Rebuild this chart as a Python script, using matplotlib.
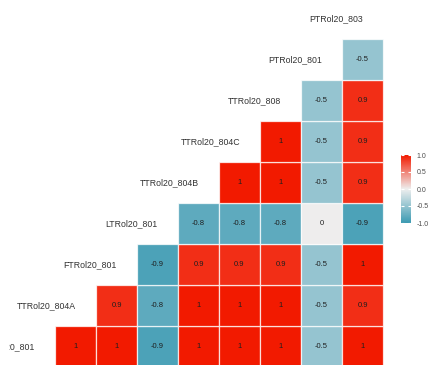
import numpy as np
import matplotlib
matplotlib.use("Agg")
import matplotlib.pyplot as plt
from matplotlib.colors import LinearSegmentedColormap, Normalize
from matplotlib.cm import ScalarMappable
from matplotlib.patches import Rectangle
from matplotlib.transforms import Bbox, TransformedBbox

plt.rcParams["font.family"] = ["Liberation Sans", "DejaVu Sans"]

# Variables in diagonal order (bottom-left to top-right)
variables = ["TTRol20_801", "TTRol20_804A", "FTRol20_801", "LTRol20_801",
             "TTRol20_804B", "TTRol20_804C", "TTRol20_808", "PTRol20_801",
             "PTRol20_803"]

# Correlations of each variable with the variables that follow it
corr_r0 = [1, 1, -0.9, 1, 1, 1, -0.5, 1]
corr_r1 = [0.9, -0.8, 1, 1, 1, -0.5, 0.9]
corr_r2 = [-0.9, 0.9, 0.9, 0.9, -0.5, 1]
corr_r3 = [-0.8, -0.8, -0.8, 0, -0.9]
corr_r4 = [1, 1, -0.5, 0.9]
corr_r5 = [1, -0.5, 0.9]
corr_r6 = [-0.5, 0.9]
corr_r7 = [-0.5]
corr_rows = [corr_r0, corr_r1, corr_r2, corr_r3, corr_r4, corr_r5, corr_r6, corr_r7]

cbar_ticks = [-1.0, -0.5, 0.0, 0.5, 1.0]

cmap = LinearSegmentedColormap.from_list(
    "zissou_div", ["#3B9AB2", "#EEEEEE", "#F21A00"])
norm = Normalize(vmin=-1, vmax=1)

W, H = 430, 365
fig = plt.figure(figsize=(W / 100, H / 100), dpi=100)
fig.patch.set_facecolor("white")

n = len(corr_rows)
cell = 41
x0, ytop = 55, 39
ax = fig.add_axes([x0 / W, (H - (ytop + n * cell)) / H, n * cell / W, n * cell / H])
ax.set_xlim(-0.5, n - 0.5)
ax.set_ylim(-0.5, n - 0.5)
ax.axis("off")

for i, row in enumerate(corr_rows):
    for k, v in enumerate(row):
        j = i + k
        ax.add_patch(Rectangle((j - 0.5, i - 0.5), 1, 1,
                               facecolor=cmap(norm(v)),
                               edgecolor=(1, 1, 1, 0.75), linewidth=0.9,
                               clip_on=False))
        ax.text(j, i, f"{v:g}", ha="center", va="center",
                fontsize=5.5, color="#1f1f1f", clip_on=False)

# Variable names sit on the diagonal, left of each row;
# the panel's visible area starts a few pixels in from the left edge
visible = TransformedBbox(Bbox([[9 / W, 0], [1, 1]]), fig.transFigure)
offset = 20 / cell
for k, name in enumerate(variables):
    t = ax.text(k - 0.5 - offset, k, name, ha="right", va="center",
                fontsize=6.3, color="#333333")
    t.set_clip_box(visible)
    t.set_clip_on(True)

# Colour bar
cax = fig.add_axes([401 / W, (H - 223) / H, 10 / W, 68 / H])
sm = ScalarMappable(norm=norm, cmap=cmap)
cb = fig.colorbar(sm, cax=cax, ticks=cbar_ticks)
cb.outline.set_visible(False)
cax.set_yticklabels([f"{t:.1f}" for t in cbar_ticks])
cax.tick_params(direction="in", color="white", length=2, width=0.8,
                left=True, right=True, labelleft=False, labelright=True,
                labelsize=5, labelcolor="#4d4d4d", pad=4)

fig.savefig("out.png", dpi=100, facecolor="white")
